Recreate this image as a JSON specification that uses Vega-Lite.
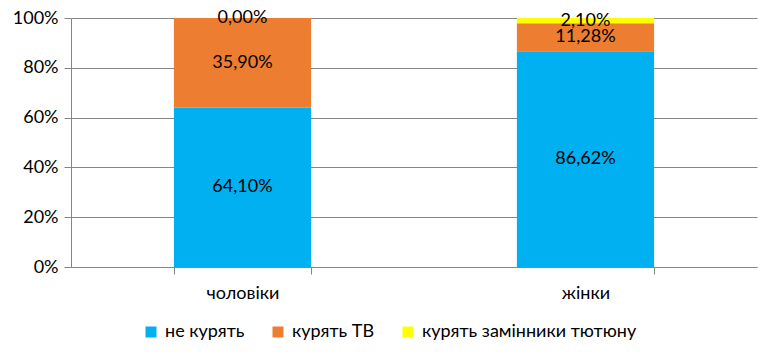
{
  "$schema": "https://vega.github.io/schema/vega-lite/v6.json",
  "width": 686,
  "height": 249,
  "autosize": {"type": "none"},
  "padding": {"left": 71, "top": 18, "right": 18, "bottom": 91},
  "config": {
    "view": {"stroke": null},
    "font": "Lato",
    "locale": {"number": {"decimal": ",", "thousands": " ", "grouping": [3], "currency": ["", " ₴"]}}
  },
  "data": {
    "values": [
      {"group": "чоловіки", "status": "не курять", "k": 1, "value": 0.641},
      {"group": "чоловіки", "status": "курять ТВ", "k": 2, "value": 0.359},
      {"group": "чоловіки", "status": "курять замінники тютюну", "k": 3, "value": 0.0},
      {"group": "жінки", "status": "не курять", "k": 1, "value": 0.8662},
      {"group": "жінки", "status": "курять ТВ", "k": 2, "value": 0.1128},
      {"group": "жінки", "status": "курять замінники тютюну", "k": 3, "value": 0.021}
    ]
  },
  "transform": [
    {"stack": "value", "groupby": ["group"], "sort": [{"field": "k", "order": "ascending"}], "as": ["y0", "y1"]}
  ],
  "encoding": {
    "x": {
      "field": "group",
      "type": "nominal",
      "sort": ["чоловіки", "жінки"],
      "scale": {"paddingInner": 0.6, "paddingOuter": 0.3},
      "axis": {
        "title": null,
        "labelAngle": 0,
        "labelFontSize": 18,
        "labelColor": "#000000",
        "labelPadding": 10,
        "tickBand": "extent",
        "tickSize": 7,
        "tickColor": "#868686",
        "domainColor": "#868686",
        "grid": false
      }
    }
  },
  "layer": [
    {
      "mark": {"type": "bar"},
      "encoding": {
        "y": {
          "field": "y0",
          "type": "quantitative",
          "scale": {"domain": [0, 1], "nice": false},
          "axis": {
            "title": null,
            "format": ".0%",
            "values": [0, 0.2, 0.4, 0.6, 0.8, 1],
            "labelFontSize": 18,
            "labelColor": "#000000",
            "labelPadding": 6,
            "tickSize": 7,
            "tickColor": "#868686",
            "domainColor": "#868686",
            "gridColor": "#868686",
            "grid": true
          }
        },
        "y2": {"field": "y1"},
        "color": {
          "field": "status",
          "type": "nominal",
          "scale": {
            "domain": ["не курять", "курять ТВ", "курять замінники тютюну"],
            "range": ["#00B0F0", "#ED7D31", "#FFFF00"]
          },
          "legend": {
            "title": null,
            "orient": "none",
            "direction": "horizontal",
            "legendX": 71,
            "legendY": 305,
            "symbolType": "square",
            "symbolSize": 121,
            "symbolStrokeWidth": 0,
            "labelFontSize": 18,
            "labelColor": "#000000",
            "labelOffset": 5,
            "labelLimit": 0,
            "columnPadding": 24
          }
        }
      }
    },
    {
      "transform": [
        {"fold": ["y0", "y1"], "as": ["edge", "pos"]},
        {"aggregate": [{"op": "mean", "field": "pos", "as": "mid"}], "groupby": ["group", "status", "value"]}
      ],
      "mark": {"type": "text", "fontSize": 18, "color": "#000000", "baseline": "middle"},
      "encoding": {
        "y": {"field": "mid", "type": "quantitative"},
        "text": {"field": "value", "type": "quantitative", "format": ".2%"}
      }
    }
  ]
}
